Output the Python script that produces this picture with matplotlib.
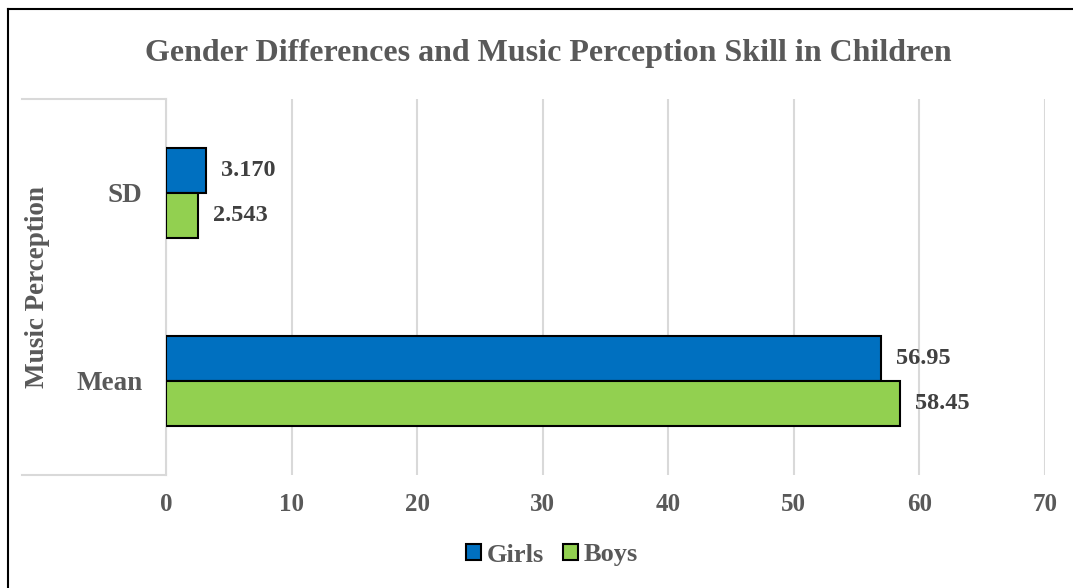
import matplotlib.pyplot as plt
from matplotlib.patches import Patch
from matplotlib.lines import Line2D

# data
categories = ['Mean', 'SD']
girls = [56.95, 3.170]
boys = [58.45, 2.543]
girls_labels = ['56.95', '3.170']
boys_labels = ['58.45', '2.543']
x_ticks = [0, 10, 20, 30, 40, 50, 60, 70]

BLUE = '#0070C0'
GREEN = '#92D050'
GRAY_TXT = '#595959'
DARK_TXT = '#404040'
GRID = '#d9d9d9'

plt.rcParams['font.family'] = ['Liberation Serif', 'DejaVu Serif']
plt.rcParams['font.weight'] = 'bold'

W, H = 1073, 588
fig = plt.figure(figsize=(W / 100, H / 100), dpi=100)

# plot area in pixel terms
x0, x1, y_top, y_bot = 166, 1045, 99, 475
ax = fig.add_axes([x0 / W, 1 - y_bot / H, (x1 - x0) / W, (y_bot - y_top) / H])

h = 0.24
ypos = list(range(len(categories)))
ax.barh([y + h / 2 for y in ypos], girls, height=h, color=BLUE,
        edgecolor='black', linewidth=1.5, zorder=3)
ax.barh([y - h / 2 for y in ypos], boys, height=h, color=GREEN,
        edgecolor='black', linewidth=1.5, zorder=3)

for y, v, s in zip(ypos, girls, girls_labels):
    ax.annotate(s, (v, y + h / 2), xytext=(11, 0), textcoords='offset points',
                ha='left', va='center', fontsize=17.5, fontweight='bold', color=DARK_TXT)
for y, v, s in zip(ypos, boys, boys_labels):
    ax.annotate(s, (v, y - h / 2), xytext=(11, 0), textcoords='offset points',
                ha='left', va='center', fontsize=17.5, fontweight='bold', color=DARK_TXT)

ax.set_xlim(0, 70)
ax.set_ylim(-0.5, len(categories) - 0.5)
ax.set_xticks(x_ticks)
ax.set_xticklabels([str(t) for t in x_ticks], fontsize=18, fontweight='bold', color=GRAY_TXT)
ax.set_yticks(ypos)
ax.set_yticklabels(categories, fontsize=19.5, fontweight='bold', color=GRAY_TXT)
ax.tick_params(axis='x', length=0, pad=13)
ax.tick_params(axis='y', length=0, pad=17)

ax.grid(axis='x', color=GRID, linewidth=1.5, zorder=0)
for sp in ['top', 'right', 'bottom']:
    ax.spines[sp].set_visible(False)
ax.spines['left'].set_color(GRID)
ax.spines['left'].set_linewidth(1.5)

# category box lines reaching out to the left
lx = (22 - x0) / (x1 - x0)
for yy in (0, 1):
    ax.add_line(Line2D([lx, 0], [yy, yy], transform=ax.transAxes, color=GRID,
                       linewidth=1.5, clip_on=False))

ax.set_ylabel('Music Perception', fontsize=19.5, fontweight='bold', color=GRAY_TXT, labelpad=0)
ax.yaxis.set_label_coords((50 - x0) / (x1 - x0), 0.5)

fig.text(548 / W, 1 - 53 / H, 'Gender Differences and Music Perception Skill in Children',
         ha='center', va='center', fontsize=23, fontweight='bold', color=GRAY_TXT)

handles = [Patch(facecolor=BLUE, edgecolor='black', linewidth=1.5, label='Girls'),
           Patch(facecolor=GREEN, edgecolor='black', linewidth=1.5, label='Boys')]
fig.legend(handles=handles, loc='center', bbox_to_anchor=(552 / W, 1 - 555 / H), ncol=2,
           frameon=False, prop={'size': 19, 'weight': 'bold'}, labelcolor=GRAY_TXT,
           handlelength=0.57, handleheight=0.57, handletextpad=0.2, columnspacing=0.75)

# outer chart border (left and top edges in view)
fig.add_artist(Line2D([8 / W, 8 / W], [0, 1 - 9 / H], transform=fig.transFigure,
                      color='black', linewidth=1.5))
fig.add_artist(Line2D([8 / W, 1], [1 - 9 / H, 1 - 9 / H], transform=fig.transFigure,
                      color='black', linewidth=1.5))

fig.savefig('out.png', dpi=100, facecolor='white')
